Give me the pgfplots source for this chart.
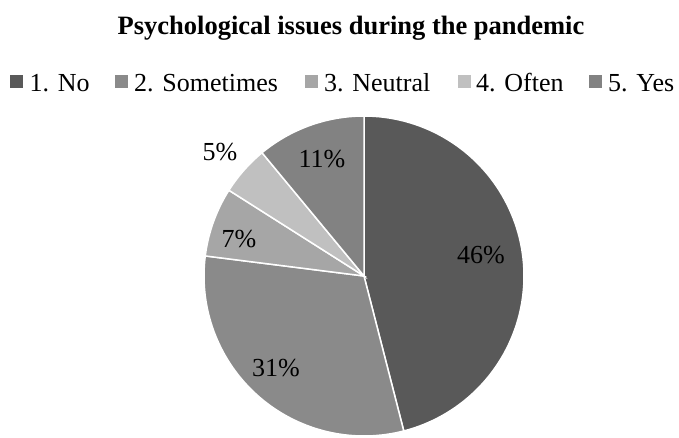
\documentclass[border=0pt]{standalone}
\usepackage{fontspec}
\setmainfont{Liberation Serif}
\usepackage{pgfplots}
\pgfplotsset{compat=1.18}
\definecolor{cNo}{HTML}{595959}
\definecolor{cSome}{HTML}{8A8A8A}
\definecolor{cNeu}{HTML}{A6A6A6}
\definecolor{cOft}{HTML}{C0C0C0}
\definecolor{cYes}{HTML}{828282}
% shares (percent), clockwise from 12 o'clock: No 46, Sometimes 31, Neutral 7, Often 5, Yes 11
% angle boundaries (counter-clockwise degrees from +x): 90, -75.6, -187.2, -212.4, -230.4, -270
\begin{document}
\begin{tikzpicture}[x=1pt,y=1pt]
\useasboundingbox (0,0) rectangle (679,437);
\begin{axis}[at={(364pt,161pt)}, anchor=center, scale only axis,
  width=320pt, height=320pt, xmin=-1, xmax=1, ymin=-1, ymax=1,
  hide axis, clip=false]
\addplot[fill=cNo, draw=white, line width=1.5pt, samples=90, domain=-75.6:90] ({cos(x)},{sin(x)}) -- (axis cs:0,0) -- cycle;
\addplot[fill=cSome, draw=white, line width=1.5pt, samples=70, domain=-187.2:-75.6] ({cos(x)},{sin(x)}) -- (axis cs:0,0) -- cycle;
\addplot[fill=cNeu, draw=white, line width=1.5pt, samples=20, domain=-212.4:-187.2] ({cos(x)},{sin(x)}) -- (axis cs:0,0) -- cycle;
\addplot[fill=cOft, draw=white, line width=1.5pt, samples=15, domain=-230.4:-212.4] ({cos(x)},{sin(x)}) -- (axis cs:0,0) -- cycle;
\addplot[fill=cYes, draw=white, line width=1.5pt, samples=30, domain=-270:-230.4] ({cos(x)},{sin(x)}) -- (axis cs:0,0) -- cycle;
\begin{scope}[every node/.style={font=\fontsize{26}{30}\selectfont, anchor=base, inner sep=0pt}]
\node at (axis cs:0.731,0.081) {46\%};
\node at (axis cs:-0.55,-0.625) {31\%};
\node at (axis cs:-0.781,0.181) {7\%};
\node at (axis cs:-0.9,0.725) {5\%};
\node at (axis cs:-0.2625,0.681) {11\%};
\end{scope}
\end{axis}
\node[font=\fontsize{26.5}{30}\selectfont\bfseries, anchor=base, inner sep=0pt] at (351,402) {Psychological issues during the pandemic};
\begin{scope}[every node/.style={font=\fontsize{26}{30}\selectfont, anchor=base west, inner sep=0pt}]
\fill[cNo] (9.5,348.5) rectangle ++(13,13);
\node at (29.5,345) {1. No};
\fill[cSome] (115,348.5) rectangle ++(13,13);
\node at (134,345) {2. Sometimes};
\fill[cNeu] (305,348.5) rectangle ++(13,13);
\node at (324,345) {3. Neutral};
\fill[cOft] (458,348.5) rectangle ++(13,13);
\node at (476,345) {4. Often};
\fill[cYes] (589,348.5) rectangle ++(13,13);
\node at (608,345) {5. Yes};
\end{scope}
\end{tikzpicture}
\end{document}
